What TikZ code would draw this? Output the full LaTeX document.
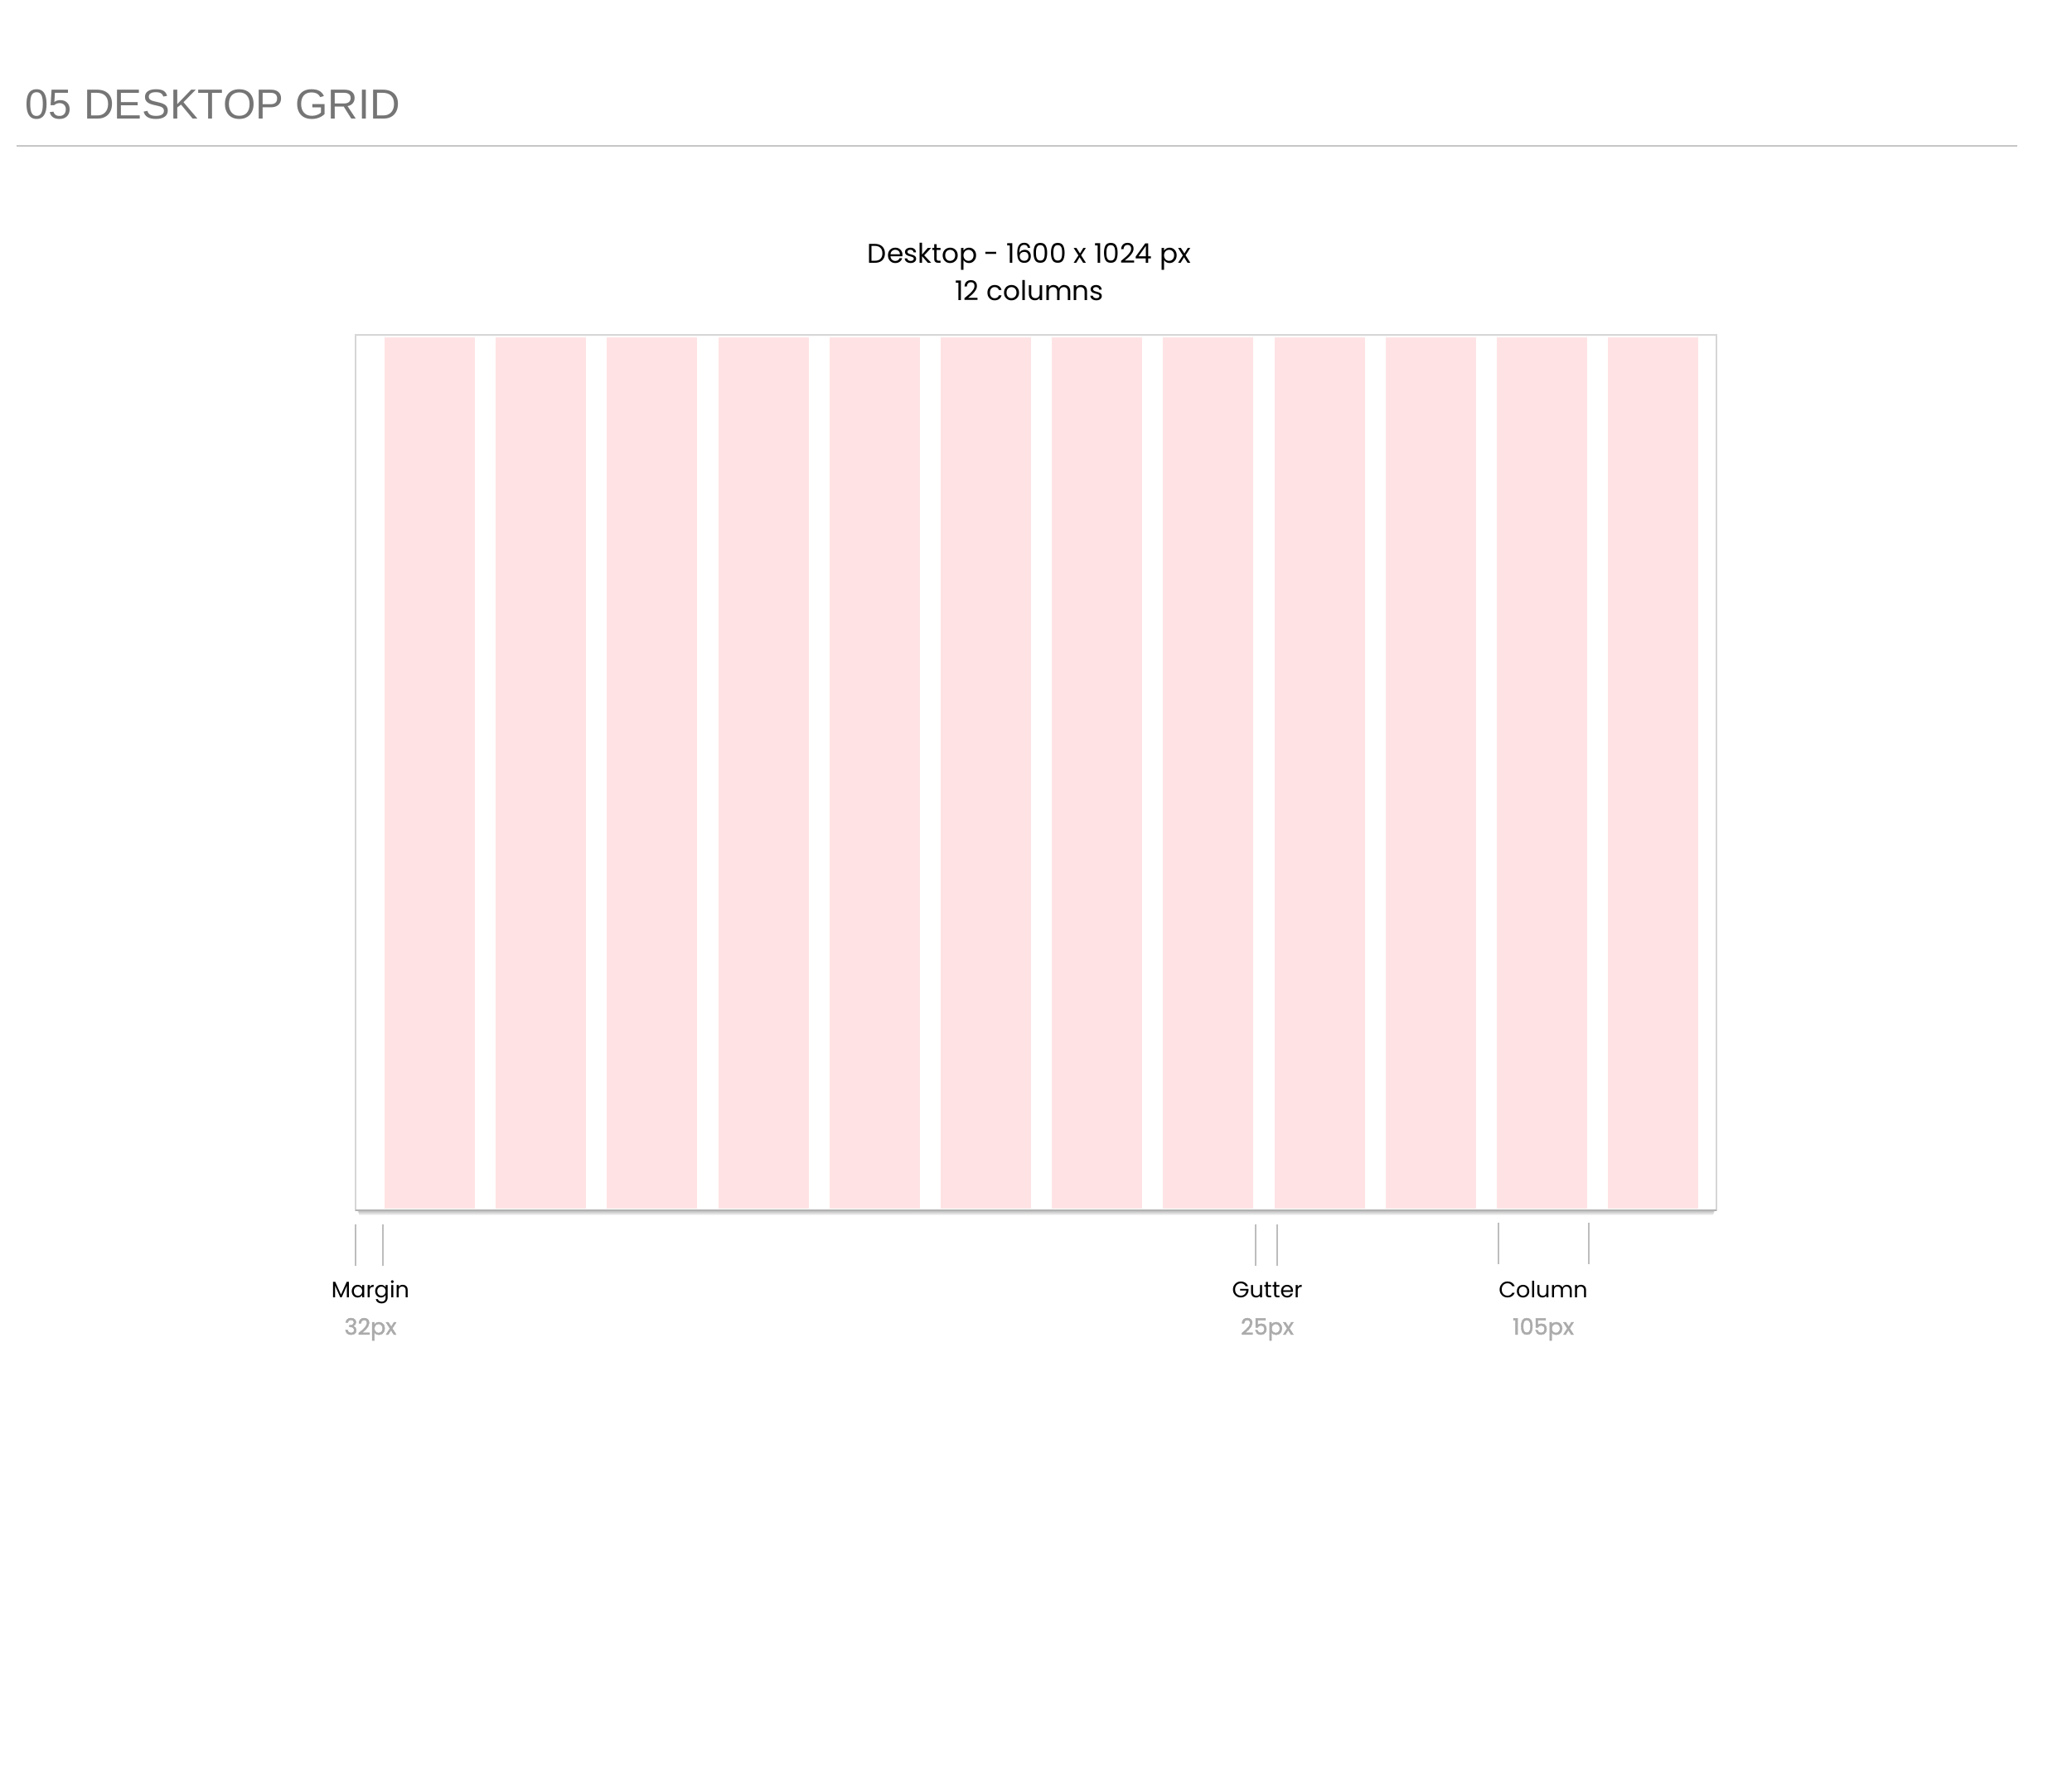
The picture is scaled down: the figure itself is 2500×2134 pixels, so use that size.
\documentclass[tikz,border=0pt]{standalone}
\usepackage{fontspec}
\setmainfont{Poppins}
\newfontfamily\headfont{Liberation Sans}
\newfontfamily\pxfont[FakeBold=1.6]{Poppins}
\usepackage{xcolor}
\definecolor{Pink}{HTML}{FFE3E4}
\definecolor{Head}{HTML}{757575}
\definecolor{Rule}{HTML}{C6C6C6}
\definecolor{Edge}{HTML}{D6D6D6}
\definecolor{Tick}{HTML}{BDBDBD}
\definecolor{Note}{HTML}{ABABAB}

\begin{document}
\begin{tikzpicture}[x=0.01cm,y=-0.01cm,
    label/.style={anchor=base,inner sep=0,font=\fontsize{7.7}{9}\selectfont},
    px/.style={anchor=base,inner sep=0,text=Note,font=\pxfont\fontsize{7.7}{9}\selectfont},
    tick/.style={draw=Tick,line width=0.5pt}]
    \useasboundingbox (0,0) rectangle (2500,2134);
    % heading and rule
    \node[anchor=base west,inner sep=0,text=Head,font=\headfont\fontsize{14.4}{17}\selectfont] (title) at (30,144) {05 DESKTOP GRID};
    \draw[Rule,line width=0.6pt] (20,176) -- (2434,176);
    \node[anchor=base,inner sep=0,font=\fontsize{9.3}{11}\selectfont] (size) at (1242,318) {Desktop - 1600 x 1024 px};
    \node[anchor=base,inner sep=0,font=\fontsize{9.3}{11}\selectfont] (cols) at (1242,363) {12 columns};
    % soft shadow under the frame
    \foreach \k in {1,...,8}
      \fill[black,opacity=0.05] (429+\k/2,1458) rectangle (2071-\k/2,1458+\k);
    % frame with the 12 columns
    \filldraw[fill=white,draw=Edge,line width=0.4pt] (429,404) rectangle (2071,1460);
    \foreach \i in {0,...,11}{
      \pgfmathsetmacro{\x}{464+\i*134.2}
      \fill[Pink] (\x,407) rectangle (\x+109,1458);
    }
    \draw[black!30,line width=0.5pt] (429,1460) -- (2071,1460);
    % measures
    \coordinate (m1) at (429,1477);
    \coordinate (m2) at (462,1477);
    \coordinate (g1) at (1515,1477);
    \coordinate (g2) at (1541,1477);
    \coordinate (c1) at (1808,1475);
    \coordinate (c2) at (1917,1475);
    \foreach \p in {m1,m2,g1,g2,c1,c2}
      \draw[tick] (\p) -- ++(0,50);
    \node[label] (margin) at (447,1565) {Margin};
    \node[px] (marginpx) at (447,1610) {32px};
    \node[label] (gutter) at (1529,1565) {Gutter};
    \node[px] (gutterpx) at (1529,1610) {25px};
    \node[label] (column) at (1862,1565) {Column};
    \node[px] (columnpx) at (1862,1610) {105px};
  \end{tikzpicture}
\end{document}
